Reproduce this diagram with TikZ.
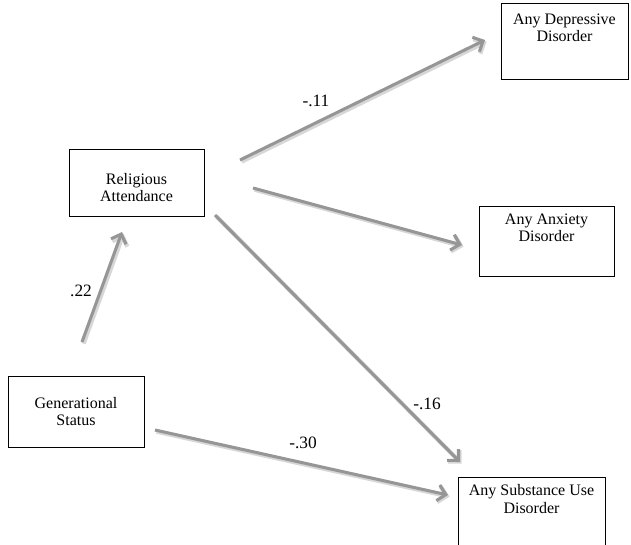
\documentclass[tikz,border=0pt]{standalone}
\usepackage{fontspec}
\setmainfont{Liberation Serif}
\usetikzlibrary{arrows.meta,positioning}

\definecolor{arrgray}{RGB}{150,150,150}
\definecolor{shadegray}{RGB}{215,215,215}

\tikzset{
  box/.style={rectangle, draw=black, line width=0.7pt, fill=white},
  boxtext/.style={align=center, inner sep=0pt, font=\fontsize{12}{13}\selectfont},
  coef/.style={inner sep=0pt, font=\fontsize{13}{14}\selectfont},
  effect/.style={draw=arrgray, line width=2.3pt, -{Straight Barb[length=6pt,width=12pt,line width=2.3pt]},
    preaction={draw=shadegray, line width=3.2pt, -{Straight Barb[length=6pt,width=12pt,line width=3.2pt]},
      transform canvas={shift={(1.2pt,-1.2pt)}}}}
}

\begin{document}
\begin{tikzpicture}[x=0.75pt, y=-0.75pt]
\useasboundingbox (0,0) rectangle (631,544);

% boxes
\node[box, minimum width=101.25pt, minimum height=50.25pt] (ra) at (136.5,182.5) {};
\node[box, minimum width=102pt, minimum height=53.25pt] (gs) at (76,411.5) {};
\node[box, minimum width=95.25pt, minimum height=57pt] (dep) at (564.5,41) {};
\node[box, minimum width=101.25pt, minimum height=52.5pt] (anx) at (546.5,241) {};
\node[box, minimum width=110.25pt, minimum height=52.5pt] (sub) at (531.5,512) {};

\node[boxtext] (ra-txt) at ([yshift=-4pt]ra.center) {Religious\\Attendance};
\node[boxtext] (gs-txt) at (gs.center) {Generational\\Status};
\node[boxtext, below=8pt of dep.north] (dep-txt) {Any Depressive\\Disorder};
\node[boxtext, below=6pt of anx.north] (anx-txt) {Any Anxiety\\Disorder};
\node[boxtext, below=6pt of sub.north] (sub-txt) {Any Substance Use\\Disorder};

% arrow ends
\coordinate (gs-up) at (82,342);
\coordinate (ra-low) at (122,232);
\coordinate (ra-dep) at (240,160);
\coordinate (dep-in) at (485,40);
\coordinate (ra-anx) at (253,188);
\coordinate (anx-in) at (462,245);
\coordinate (ra-sub) at (215,215);
\coordinate (sub-top) at (460,462);
\coordinate (gs-right) at (155,430);
\coordinate (sub-left) at (448,495);

\path[effect] (gs-up) -- (ra-low);
\path[effect] (ra-dep) -- (dep-in);
\path[effect] (ra-anx) -- (anx-in);
\path[effect] (ra-sub) -- (sub-top);
\path[effect] (gs-right) -- (sub-left);

% coefficients
\node[coef] (c1) at (81,291) {.22};
\node[coef] (c2) at (316,101) {-.11};
\node[coef] (c3) at (427,404) {-.16};
\node[coef] (c4) at (303,443) {-.30};
\end{tikzpicture}
\end{document}
